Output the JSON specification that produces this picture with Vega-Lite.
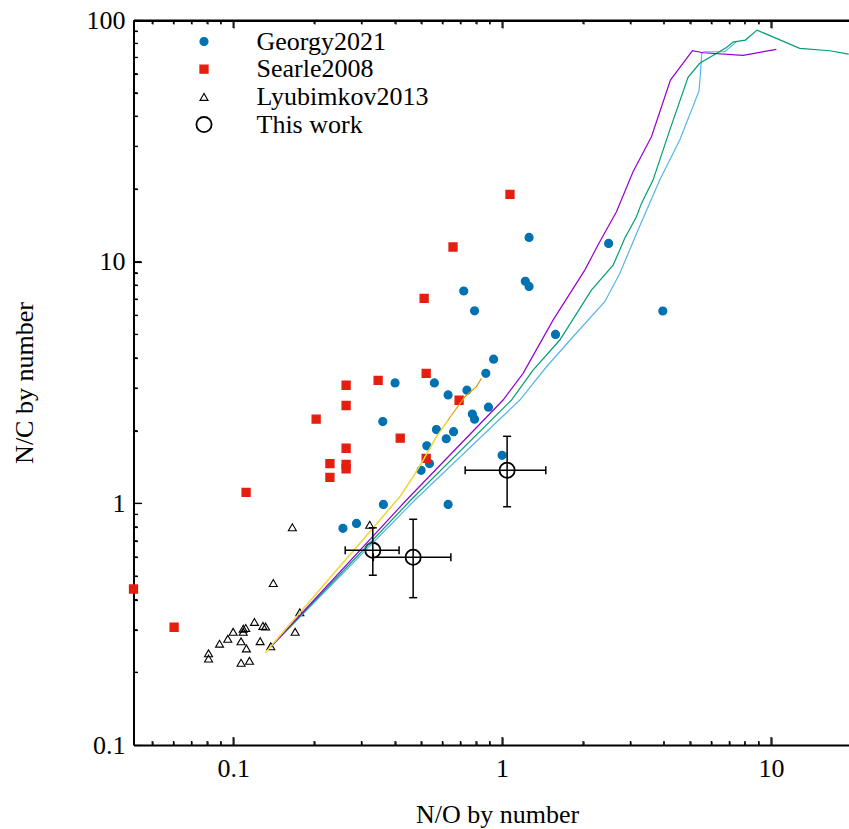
{
  "$schema": "https://vega.github.io/schema/vega-lite/v6.json",
  "autosize": {"type": "none"},
  "width": 715.5,
  "height": 725,
  "padding": {"left": 133.5, "top": 20, "right": 0, "bottom": 84},
  "background": "white",
  "config": {
    "view": {"stroke": null},
    "axis": {
      "labelFont": "Liberation Serif", "titleFont": "Liberation Serif",
      "labelFontSize": 26, "titleFontSize": 26, "titleFontWeight": "normal",
      "labelColor": "black", "titleColor": "black", "grid": false, "ticks": true,
      "domainColor": "black", "domainWidth": 2, "domainOpacity": 1, "tickColor": "black", "tickWidth": 1.2, "tickOpacity": 1,
      "labelFlush": false, "labelOverlap": false, "labelBound": false
    },
    "legend": {
      "orient": "none", "legendX": 57.5, "legendY": 8.5, "padding": 0,
      "labelFont": "Liberation Serif", "labelFontSize": 26, "labelColor": "black",
      "labelOffset": 39.5, "rowPadding": 1.7, "title": null, "labelLimit": 0
    }
  },
  "datasets": {
    "xmajor": [{"v": 0.1}, {"v": 1}, {"v": 10}],
    "xminor": [{"v": 0.05}, {"v": 0.06}, {"v": 0.07}, {"v": 0.08}, {"v": 0.09}, {"v": 0.2}, {"v": 0.3}, {"v": 0.4}, {"v": 0.5}, {"v": 0.6}, {"v": 0.7}, {"v": 0.8}, {"v": 0.9}, {"v": 2}, {"v": 3}, {"v": 4}, {"v": 5}, {"v": 6}, {"v": 7}, {"v": 8}, {"v": 9}],
    "ymajor": [{"v": 1}, {"v": 10}],
    "yminor": [{"v": 0.2}, {"v": 0.3}, {"v": 0.4}, {"v": 0.5}, {"v": 0.6}, {"v": 0.7}, {"v": 0.8}, {"v": 0.9}, {"v": 2}, {"v": 3}, {"v": 4}, {"v": 5}, {"v": 6}, {"v": 7}, {"v": 8}, {"v": 9}, {"v": 20}, {"v": 30}, {"v": 40}, {"v": 50}, {"v": 60}, {"v": 70}, {"v": 80}, {"v": 90}],
    "frame": [{"top": 100}],
    "points": [
      {"source": "Georgy2021", "no": 2.49, "nc": 11.9},
      {"source": "Georgy2021", "no": 3.96, "nc": 6.25},
      {"source": "Georgy2021", "no": 1.58, "nc": 5.0},
      {"source": "Georgy2021", "no": 1.26, "nc": 12.6},
      {"source": "Georgy2021", "no": 1.22, "nc": 8.3},
      {"source": "Georgy2021", "no": 1.26, "nc": 7.9},
      {"source": "Georgy2021", "no": 0.72, "nc": 7.56},
      {"source": "Georgy2021", "no": 0.79, "nc": 6.26},
      {"source": "Georgy2021", "no": 0.93, "nc": 3.95},
      {"source": "Georgy2021", "no": 0.87, "nc": 3.45},
      {"source": "Georgy2021", "no": 0.40, "nc": 3.15},
      {"source": "Georgy2021", "no": 0.56, "nc": 3.15},
      {"source": "Georgy2021", "no": 0.63, "nc": 2.81},
      {"source": "Georgy2021", "no": 0.74, "nc": 2.94},
      {"source": "Georgy2021", "no": 0.89, "nc": 2.50},
      {"source": "Georgy2021", "no": 0.775, "nc": 2.34},
      {"source": "Georgy2021", "no": 0.79, "nc": 2.23},
      {"source": "Georgy2021", "no": 0.36, "nc": 2.18},
      {"source": "Georgy2021", "no": 0.57, "nc": 2.02},
      {"source": "Georgy2021", "no": 0.66, "nc": 1.98},
      {"source": "Georgy2021", "no": 0.62, "nc": 1.85},
      {"source": "Georgy2021", "no": 0.525, "nc": 1.73},
      {"source": "Georgy2021", "no": 1.0, "nc": 1.58},
      {"source": "Georgy2021", "no": 0.537, "nc": 1.46},
      {"source": "Georgy2021", "no": 0.50, "nc": 1.37},
      {"source": "Georgy2021", "no": 0.362, "nc": 0.99},
      {"source": "Georgy2021", "no": 0.63, "nc": 0.99},
      {"source": "Georgy2021", "no": 0.2875, "nc": 0.826},
      {"source": "Georgy2021", "no": 0.256, "nc": 0.788},
      {"source": "Searle2008", "no": 1.07, "nc": 19.0},
      {"source": "Searle2008", "no": 0.657, "nc": 11.5},
      {"source": "Searle2008", "no": 0.513, "nc": 7.05},
      {"source": "Searle2008", "no": 0.263, "nc": 3.08},
      {"source": "Searle2008", "no": 0.346, "nc": 3.23},
      {"source": "Searle2008", "no": 0.522, "nc": 3.45},
      {"source": "Searle2008", "no": 0.263, "nc": 2.54},
      {"source": "Searle2008", "no": 0.2035, "nc": 2.23},
      {"source": "Searle2008", "no": 0.692, "nc": 2.67},
      {"source": "Searle2008", "no": 0.418, "nc": 1.86},
      {"source": "Searle2008", "no": 0.263, "nc": 1.69},
      {"source": "Searle2008", "no": 0.522, "nc": 1.535},
      {"source": "Searle2008", "no": 0.229, "nc": 1.46},
      {"source": "Searle2008", "no": 0.263, "nc": 1.45},
      {"source": "Searle2008", "no": 0.263, "nc": 1.39},
      {"source": "Searle2008", "no": 0.229, "nc": 1.28},
      {"source": "Searle2008", "no": 0.1117, "nc": 1.11},
      {"source": "Searle2008", "no": 0.0603, "nc": 0.307},
      {"source": "Searle2008", "no": 0.0426, "nc": 0.442},
      {"source": "Lyubimkov2013", "no": 0.166, "nc": 0.796},
      {"source": "Lyubimkov2013", "no": 0.322, "nc": 0.815},
      {"source": "Lyubimkov2013", "no": 0.141, "nc": 0.468},
      {"source": "Lyubimkov2013", "no": 0.177, "nc": 0.354},
      {"source": "Lyubimkov2013", "no": 0.170, "nc": 0.294},
      {"source": "Lyubimkov2013", "no": 0.138, "nc": 0.256},
      {"source": "Lyubimkov2013", "no": 0.120, "nc": 0.323},
      {"source": "Lyubimkov2013", "no": 0.129, "nc": 0.311},
      {"source": "Lyubimkov2013", "no": 0.132, "nc": 0.309},
      {"source": "Lyubimkov2013", "no": 0.109, "nc": 0.303},
      {"source": "Lyubimkov2013", "no": 0.1114, "nc": 0.305},
      {"source": "Lyubimkov2013", "no": 0.109, "nc": 0.294},
      {"source": "Lyubimkov2013", "no": 0.100, "nc": 0.294},
      {"source": "Lyubimkov2013", "no": 0.0955, "nc": 0.275},
      {"source": "Lyubimkov2013", "no": 0.089, "nc": 0.2625},
      {"source": "Lyubimkov2013", "no": 0.107, "nc": 0.2685},
      {"source": "Lyubimkov2013", "no": 0.126, "nc": 0.269},
      {"source": "Lyubimkov2013", "no": 0.112, "nc": 0.251},
      {"source": "Lyubimkov2013", "no": 0.081, "nc": 0.2395},
      {"source": "Lyubimkov2013", "no": 0.081, "nc": 0.228},
      {"source": "Lyubimkov2013", "no": 0.107, "nc": 0.219},
      {"source": "Lyubimkov2013", "no": 0.115, "nc": 0.223},
      {"source": "This work", "no": 0.3306, "nc": 0.639},
      {"source": "This work", "no": 0.467, "nc": 0.598},
      {"source": "This work", "no": 1.044, "nc": 1.37}
    ],
    "thiswork": [
      {"no": 0.3306, "nc": 0.639, "no_lo": 0.261, "no_hi": 0.414, "nc_lo": 0.504, "nc_hi": 0.792},
      {"no": 0.467, "nc": 0.598, "no_lo": 0.332, "no_hi": 0.645, "nc_lo": 0.407, "nc_hi": 0.859},
      {"no": 1.044, "nc": 1.37, "no_lo": 0.729, "no_hi": 1.454, "nc_lo": 0.968, "nc_hi": 1.894}
    ],
    "tracks": [
      {"track": "track3", "i": 0, "no": 0.138, "nc": 0.255},
      {"track": "track3", "i": 1, "no": 0.474, "nc": 1.032},
      {"track": "track3", "i": 2, "no": 1.164, "nc": 2.676},
      {"track": "track3", "i": 3, "no": 1.463, "nc": 3.674},
      {"track": "track3", "i": 4, "no": 1.836, "nc": 4.89},
      {"track": "track3", "i": 5, "no": 2.409, "nc": 6.83},
      {"track": "track3", "i": 6, "no": 2.739, "nc": 8.94},
      {"track": "track3", "i": 7, "no": 3.203, "nc": 13.51},
      {"track": "track3", "i": 8, "no": 3.857, "nc": 21.76},
      {"track": "track3", "i": 9, "no": 4.578, "nc": 31.85},
      {"track": "track3", "i": 10, "no": 5.40, "nc": 50.9},
      {"track": "track3", "i": 11, "no": 5.465, "nc": 60.1},
      {"track": "track3", "i": 12, "no": 5.527, "nc": 72.8},
      {"track": "track3", "i": 13, "no": 5.622, "nc": 73.9},
      {"track": "track3", "i": 14, "no": 6.73, "nc": 73.9},
      {"track": "track3", "i": 15, "no": 7.33, "nc": 80.0},
      {"track": "track3", "i": 16, "no": 7.44, "nc": 82.0},
      {"track": "track2", "i": 0, "no": 0.138, "nc": 0.255},
      {"track": "track2", "i": 1, "no": 0.458, "nc": 1.032},
      {"track": "track2", "i": 2, "no": 1.084, "nc": 2.676},
      {"track": "track2", "i": 3, "no": 1.304, "nc": 3.56},
      {"track": "track2", "i": 4, "no": 1.639, "nc": 4.74},
      {"track": "track2", "i": 5, "no": 2.149, "nc": 7.63},
      {"track": "track2", "i": 6, "no": 2.587, "nc": 9.68},
      {"track": "track2", "i": 7, "no": 2.739, "nc": 11.17},
      {"track": "track2", "i": 8, "no": 2.858, "nc": 12.49},
      {"track": "track2", "i": 9, "no": 3.16, "nc": 15.34},
      {"track": "track2", "i": 10, "no": 3.298, "nc": 17.42},
      {"track": "track2", "i": 11, "no": 3.642, "nc": 21.76},
      {"track": "track2", "i": 12, "no": 4.202, "nc": 35.03},
      {"track": "track2", "i": 13, "no": 4.915, "nc": 57.9},
      {"track": "track2", "i": 14, "no": 5.432, "nc": 66.2},
      {"track": "track2", "i": 15, "no": 6.83, "nc": 77.0},
      {"track": "track2", "i": 16, "no": 7.225, "nc": 81.0},
      {"track": "track2", "i": 17, "no": 8.03, "nc": 82.6},
      {"track": "track2", "i": 18, "no": 8.87, "nc": 90.8},
      {"track": "track2", "i": 19, "no": 12.79, "nc": 76.3},
      {"track": "track2", "i": 20, "no": 16.53, "nc": 74.6},
      {"track": "track2", "i": 21, "no": 19.45, "nc": 72.3},
      {"track": "track1", "i": 0, "no": 0.138, "nc": 0.255},
      {"track": "track1", "i": 1, "no": 0.441, "nc": 1.032},
      {"track": "track1", "i": 2, "no": 1.0086, "nc": 2.676},
      {"track": "track1", "i": 3, "no": 1.197, "nc": 3.45},
      {"track": "track1", "i": 4, "no": 1.547, "nc": 5.73},
      {"track": "track1", "i": 5, "no": 2.03, "nc": 9.23},
      {"track": "track1", "i": 6, "no": 2.308, "nc": 12.09},
      {"track": "track1", "i": 7, "no": 2.663, "nc": 16.09},
      {"track": "track1", "i": 8, "no": 3.069, "nc": 23.55},
      {"track": "track1", "i": 9, "no": 3.593, "nc": 32.87},
      {"track": "track1", "i": 10, "no": 4.227, "nc": 56.4},
      {"track": "track1", "i": 11, "no": 5.104, "nc": 74.6},
      {"track": "track1", "i": 12, "no": 5.587, "nc": 73.2},
      {"track": "track1", "i": 13, "no": 7.87, "nc": 71.4},
      {"track": "track1", "i": 14, "no": 10.47, "nc": 75.6},
      {"track": "track4", "i": 0, "no": 0.1318, "nc": 0.241},
      {"track": "track4", "i": 1, "no": 0.351, "nc": 0.853},
      {"track": "track4", "i": 2, "no": 0.417, "nc": 1.065},
      {"track": "track4", "i": 3, "no": 0.467, "nc": 1.289},
      {"track": "track4", "i": 4, "no": 0.509, "nc": 1.51},
      {"track": "track4", "i": 5, "no": 0.570, "nc": 1.886},
      {"track": "track4", "i": 6, "no": 0.649, "nc": 2.32},
      {"track": "track4", "i": 7, "no": 0.727, "nc": 2.76},
      {"track": "track4", "i": 8, "no": 0.803, "nc": 3.04},
      {"track": "track4", "i": 9, "no": 0.838, "nc": 3.29},
      {"track": "track5", "i": 0, "no": 0.1318, "nc": 0.241},
      {"track": "track5", "i": 1, "no": 0.351, "nc": 0.853},
      {"track": "track5", "i": 2, "no": 0.417, "nc": 1.065},
      {"track": "track5", "i": 3, "no": 0.467, "nc": 1.289},
      {"track": "track5", "i": 4, "no": 0.509, "nc": 1.51},
      {"track": "track5", "i": 5, "no": 0.570, "nc": 1.886},
      {"track": "track5", "i": 6, "no": 0.630, "nc": 2.2}
    ]
  },
  "resolve": {"scale": {"x": "independent", "y": "independent"}, "axis": {"x": "independent", "y": "independent"}},
  "layer": [
    {
      "data": {"name": "points"},
      "mark": {"type": "point", "filled": false, "opacity": 1},
      "encoding": {
        "x": {"field": "no", "type": "quantitative",
          "scale": {"type": "log", "domain": [0.0426, 19.5], "nice": false, "zero": false},
          "axis": {"orient": "bottom", "values": [0.1, 1, 10], "format": "~g", "ticks": true, "tickSize": -8,
            "labelPadding": 18, "domain": true,
            "labelFont": "Liberation Serif", "titleFont": "Liberation Serif",
            "title": "N/O by number", "titleX": 363.5, "titleY": 77.7, "titleBaseline": "alphabetic", "titleAlign": "center"}},
        "y": {"field": "nc", "type": "quantitative",
          "scale": {"type": "log", "domain": [0.1, 100], "nice": false, "zero": false},
          "axis": {"orient": "left", "values": [0.1, 1, 10, 100], "format": "~g", "ticks": true, "tickSize": -8,
            "labelPadding": 16.5, "domain": true,
            "labelFont": "Liberation Serif", "titleFont": "Liberation Serif",
            "title": "N/C by number", "titleX": -100.8, "titleY": 362.5, "titleAngle": -90, "titleBaseline": "alphabetic", "titleAlign": "center"}},
        "color": {"field": "source", "type": "nominal",
          "scale": {"domain": ["Georgy2021", "Searle2008", "Lyubimkov2013", "This work"], "range": ["#0072b2", "#e51e10", "#000000", "#000000"]},
          "legend": {"title": null}},
        "fill": {"field": "source", "type": "nominal",
          "scale": {"domain": ["Georgy2021", "Searle2008", "Lyubimkov2013", "This work"], "range": ["#0072b2", "#e51e10", "transparent", "transparent"]},
          "legend": {"title": null}},
        "shape": {"field": "source", "type": "nominal",
          "scale": {"domain": ["Georgy2021", "Searle2008", "Lyubimkov2013", "This work"], "range": ["circle", "square", "triangle-up", "circle"]},
          "legend": {"title": null}},
        "size": {"field": "source", "type": "nominal",
          "scale": {"type": "ordinal", "domain": ["Georgy2021", "Searle2008", "Lyubimkov2013", "This work"], "range": [62, 64, 64, 230]},
          "legend": {"title": null}},
        "strokeWidth": {"field": "source", "type": "nominal",
          "scale": {"type": "ordinal", "domain": ["Georgy2021", "Searle2008", "Lyubimkov2013", "This work"], "range": [1.3, 1.3, 1.1, 1.8]},
          "legend": {"title": null}}
      }
    },
    {
      "data": {"name": "tracks"},
      "mark": {"type": "line", "strokeWidth": 1.2, "clip": true},
      "encoding": {
        "x": {"field": "no", "type": "quantitative",
          "scale": {"type": "log", "domain": [0.0426, 19.5], "nice": false, "zero": false},
          "axis": {"orient": "bottom", "values": [0.05, 0.06, 0.07, 0.08, 0.09, 0.2, 0.3, 0.4, 0.5, 0.6, 0.7, 0.8, 0.9, 2, 3, 4, 5, 6, 7, 8, 9],
            "ticks": true, "tickSize": -4, "labels": false, "domain": false, "title": null}},
        "y": {"field": "nc", "type": "quantitative",
          "scale": {"type": "log", "domain": [0.1, 100], "nice": false, "zero": false},
          "axis": {"orient": "left", "values": [0.2, 0.3, 0.4, 0.5, 0.6, 0.7, 0.8, 0.9, 2, 3, 4, 5, 6, 7, 8, 9, 20, 30, 40, 50, 60, 70, 80, 90],
            "ticks": true, "tickSize": -4, "labels": false, "domain": false, "title": null}},
        "stroke": {"field": "track", "type": "nominal",
          "scale": {"domain": ["track3", "track2", "track1", "track4", "track5"], "range": ["#56b4e9", "#009e73", "#9400d3", "#e69f00", "#f0e442"]},
          "legend": null},
        "order": {"field": "i", "type": "quantitative"}
      }
    },
    {
      "data": {"name": "thiswork"},
      "mark": {"type": "rule", "color": "black", "strokeWidth": 1.5},
      "encoding": {
        "x": {"field": "no_lo", "type": "quantitative",
          "scale": {"type": "log", "domain": [0.0426, 19.5], "nice": false, "zero": false},
          "axis": {"orient": "top", "values": [0.1, 1, 10], "ticks": true, "tickSize": -8,
            "labels": false, "domain": true, "title": null}},
        "x2": {"field": "no_hi"},
        "y": {"field": "nc", "type": "quantitative",
          "scale": {"type": "log", "domain": [0.1, 100], "nice": false, "zero": false}, "axis": null}
      }
    },
    {
      "data": {"name": "thiswork"},
      "mark": {"type": "rule", "color": "black", "strokeWidth": 1.5},
      "encoding": {
        "x": {"field": "no", "type": "quantitative",
          "scale": {"type": "log", "domain": [0.0426, 19.5], "nice": false, "zero": false},
          "axis": {"orient": "top", "values": [0.05, 0.06, 0.07, 0.08, 0.09, 0.2, 0.3, 0.4, 0.5, 0.6, 0.7, 0.8, 0.9, 2, 3, 4, 5, 6, 7, 8, 9],
            "ticks": true, "tickSize": -4, "labels": false, "domain": false, "title": null}},
        "y": {"field": "nc_lo", "type": "quantitative",
          "scale": {"type": "log", "domain": [0.1, 100], "nice": false, "zero": false}, "axis": null},
        "y2": {"field": "nc_hi"}
      }
    },
    {
      "data": {"name": "thiswork"},
      "mark": {"type": "tick", "orient": "vertical", "size": 8, "thickness": 1.5, "color": "black", "opacity": 1},
      "encoding": {
        "x": {"field": "no_lo", "type": "quantitative",
          "scale": {"type": "log", "domain": [0.0426, 19.5], "nice": false, "zero": false}, "axis": null},
        "y": {"field": "nc", "type": "quantitative",
          "scale": {"type": "log", "domain": [0.1, 100], "nice": false, "zero": false}, "axis": null}
      }
    },
    {
      "data": {"name": "thiswork"},
      "mark": {"type": "tick", "orient": "vertical", "size": 8, "thickness": 1.5, "color": "black", "opacity": 1},
      "encoding": {
        "x": {"field": "no_hi", "type": "quantitative",
          "scale": {"type": "log", "domain": [0.0426, 19.5], "nice": false, "zero": false}, "axis": null},
        "y": {"field": "nc", "type": "quantitative",
          "scale": {"type": "log", "domain": [0.1, 100], "nice": false, "zero": false}, "axis": null}
      }
    },
    {
      "data": {"name": "thiswork"},
      "mark": {"type": "tick", "orient": "horizontal", "size": 8, "thickness": 1.5, "color": "black", "opacity": 1},
      "encoding": {
        "x": {"field": "no", "type": "quantitative",
          "scale": {"type": "log", "domain": [0.0426, 19.5], "nice": false, "zero": false}, "axis": null},
        "y": {"field": "nc_lo", "type": "quantitative",
          "scale": {"type": "log", "domain": [0.1, 100], "nice": false, "zero": false}, "axis": null}
      }
    },
    {
      "data": {"name": "thiswork"},
      "mark": {"type": "tick", "orient": "horizontal", "size": 8, "thickness": 1.5, "color": "black", "opacity": 1},
      "encoding": {
        "x": {"field": "no", "type": "quantitative",
          "scale": {"type": "log", "domain": [0.0426, 19.5], "nice": false, "zero": false}, "axis": null},
        "y": {"field": "nc_hi", "type": "quantitative",
          "scale": {"type": "log", "domain": [0.1, 100], "nice": false, "zero": false}, "axis": null}
      }
    },
    {
      "data": {"name": "frame"},
      "mark": {"type": "rule", "color": "black", "strokeWidth": 2, "yOffset": 1},
      "encoding": {
        "y": {"field": "top", "type": "quantitative",
          "scale": {"type": "log", "domain": [0.1, 100], "nice": false, "zero": false}, "axis": null}
      }
    },
    {
      "data": {"name": "xmajor"},
      "mark": {"type": "tick", "orient": "vertical", "size": 8, "thickness": 1.2, "color": "black", "opacity": 1, "yOffset": -4},
      "encoding": {
        "x": {"field": "v", "type": "quantitative",
          "scale": {"type": "log", "domain": [0.0426, 19.5], "nice": false, "zero": false}, "axis": null},
        "y": {"datum": 0.1, "type": "quantitative",
          "scale": {"type": "log", "domain": [0.1, 100], "nice": false, "zero": false}, "axis": null}
      }
    },
    {
      "data": {"name": "xmajor"},
      "mark": {"type": "tick", "orient": "vertical", "size": 8, "thickness": 1.2, "color": "black", "opacity": 1, "yOffset": 4},
      "encoding": {
        "x": {"field": "v", "type": "quantitative",
          "scale": {"type": "log", "domain": [0.0426, 19.5], "nice": false, "zero": false}, "axis": null},
        "y": {"datum": 100, "type": "quantitative",
          "scale": {"type": "log", "domain": [0.1, 100], "nice": false, "zero": false}, "axis": null}
      }
    },
    {
      "data": {"name": "xminor"},
      "mark": {"type": "tick", "orient": "vertical", "size": 4, "thickness": 1.2, "color": "black", "opacity": 1, "yOffset": -2},
      "encoding": {
        "x": {"field": "v", "type": "quantitative",
          "scale": {"type": "log", "domain": [0.0426, 19.5], "nice": false, "zero": false}, "axis": null},
        "y": {"datum": 0.1, "type": "quantitative",
          "scale": {"type": "log", "domain": [0.1, 100], "nice": false, "zero": false}, "axis": null}
      }
    },
    {
      "data": {"name": "xminor"},
      "mark": {"type": "tick", "orient": "vertical", "size": 4, "thickness": 1.2, "color": "black", "opacity": 1, "yOffset": 2},
      "encoding": {
        "x": {"field": "v", "type": "quantitative",
          "scale": {"type": "log", "domain": [0.0426, 19.5], "nice": false, "zero": false}, "axis": null},
        "y": {"datum": 100, "type": "quantitative",
          "scale": {"type": "log", "domain": [0.1, 100], "nice": false, "zero": false}, "axis": null}
      }
    },
    {
      "data": {"name": "ymajor"},
      "mark": {"type": "tick", "orient": "horizontal", "size": 8, "thickness": 1.2, "color": "black", "opacity": 1, "xOffset": 4},
      "encoding": {
        "x": {"datum": 0.0426, "type": "quantitative",
          "scale": {"type": "log", "domain": [0.0426, 19.5], "nice": false, "zero": false}, "axis": null},
        "y": {"field": "v", "type": "quantitative",
          "scale": {"type": "log", "domain": [0.1, 100], "nice": false, "zero": false}, "axis": null}
      }
    },
    {
      "data": {"name": "yminor"},
      "mark": {"type": "tick", "orient": "horizontal", "size": 4, "thickness": 1.2, "color": "black", "opacity": 1, "xOffset": 2},
      "encoding": {
        "x": {"datum": 0.0426, "type": "quantitative",
          "scale": {"type": "log", "domain": [0.0426, 19.5], "nice": false, "zero": false}, "axis": null},
        "y": {"field": "v", "type": "quantitative",
          "scale": {"type": "log", "domain": [0.1, 100], "nice": false, "zero": false}, "axis": null}
      }
    }
  ]
}
